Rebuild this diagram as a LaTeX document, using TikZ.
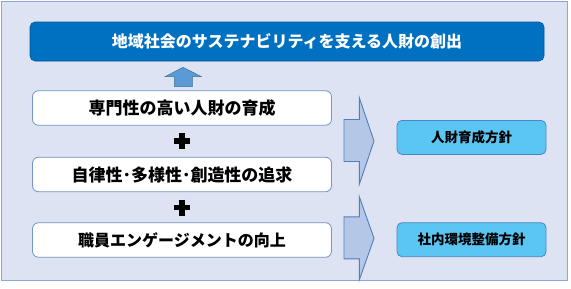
\documentclass[tikz,border=0pt]{standalone}
\usepackage{fontspec}
\setmainfont{Noto Sans CJK JP}
\usepackage{xcolor}
\definecolor{framefill}{HTML}{DDE3F2}
\definecolor{frameline}{HTML}{8EA6D2}
\definecolor{goalblue}{HTML}{0070C0}
\definecolor{boxline}{HTML}{7094C4}
\definecolor{chevfill}{HTML}{B4C7E7}
\definecolor{chevline}{HTML}{4F7FBC}
\definecolor{policyfill}{HTML}{5BC6F3}
\definecolor{policyline}{HTML}{4A86BF}
\definecolor{upfill}{HTML}{5B9BD5}
\definecolor{upline}{HTML}{41719C}

\begin{document}
\begin{tikzpicture}[x=1pt, y=-1pt,
        goalbox/.style={fill=goalblue, draw=goalblue!80!black, line width=0.6pt, rounded corners=5pt,
            minimum width=514pt, minimum height=39pt, inner sep=0pt, text=white,
            font=\bfseries\fontsize{16}{16}\selectfont},
        whitebox/.style={fill=white, draw=boxline, line width=0.8pt, rounded corners=6pt,
            minimum width=299pt, minimum height=34.5pt, inner sep=0pt},
        policybox/.style={fill=policyfill, draw=policyline, line width=0.8pt, rounded corners=5pt,
            minimum width=149pt, minimum height=34pt, inner sep=0pt,
            font=\bfseries\fontsize{13.5}{13.5}\selectfont},
        chevron/.style={fill=chevfill, draw=chevline, line width=0.9pt, line join=miter}]
        \useasboundingbox (0,0) rectangle (571,289);
        \draw[fill=framefill, draw=frameline, line width=0.8pt] (1,1) rectangle (567,280);
        \node[goalbox] (goal) at (287,41.5) {地域社会のサステナビリティを支える人財の創出};
        \fill[upfill, draw=upline, line width=0.5pt] (165,76.7) -- (183,67.3) -- (201.5,76.7) -- (192.3,76.7)
            -- (192.3,86.7) -- (174.3,86.7) -- (174.3,76.7) -- cycle;
        \foreach \n/\y/\s/\t in {spec/108/17/専門性の高い人財の育成, auto/174.5/17/自律性･多様性･創造性の追求,
            engage/240/16/職員エンゲージメントの向上} {
            \node[whitebox, font=\bfseries\fontsize{\s}{\s}\selectfont] (\n) at (182,\y) {\t};
        }
        \foreach \y in {141,207.5} {
            \draw[line width=5.5pt] (174,\y) -- (190,\y) (182,\y-8) -- (182,\y+8);
        }
        \foreach \t/\m in {97.7/141, 196.7/238.3} {
            \draw[chevron] (344,\m-21.5) -- (359.3,\m-21.5) -- (359.3,\t) -- (374,\m)
                -- (359.3,2*\m-\t) -- (359.3,\m+20.5) -- (344,\m+20.5) -- cycle;
        }
        \node[policybox] (hr) at (471.5,137.4) {人財育成方針};
        \node[policybox] (env) at (471.5,239.7) {社内環境整備方針};
    \end{tikzpicture}
\end{document}
